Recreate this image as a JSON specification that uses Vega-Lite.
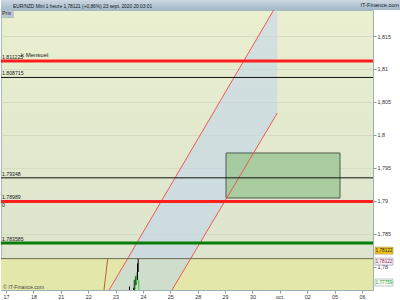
{
  "$schema": "https://vega.github.io/schema/vega-lite/v6.json",
  "padding": 0,
  "autosize": {"type": "pad"},
  "background": "#ffffff",
  "spacing": 0,
  "bounds": "flush",
  "title": {"text": "IT-Finance.com", "anchor": "end", "orient": "top", "frame": "bounds", "offset": -9, "dx": -2, "fontSize": 5.6, "fontWeight": "normal", "color": "#14202c", "font": "Liberation Sans"},
  "config": {
    "font": "Liberation Sans",
    "view": {"stroke": null},
    "axisX": {"tickCount": 14, "labelOverlap": false, "labelFlush": false},
    "axisY": {"tickCount": 10, "labelOverlap": false, "labelFlush": false}
  },
  "datasets": {
    "price": [{"value": 1.78122}],
    "levels": [
      {"label": "1.811225", "value": 1.811225, "kind": "red"},
      {"label": "1.808715", "value": 1.808715, "kind": "black"},
      {"label": "1.79348", "value": 1.79348, "kind": "black"},
      {"label": "1.78989", "value": 1.78989, "kind": "red"},
      {"label": "1.783585", "value": 1.783585, "kind": "green"}
    ],
    "channel": [
      {"p": 1.77646, "left": 3.766, "right": 6.063},
      {"p": 1.803316, "left": 7.568, "right": 9.909},
      {"p": 1.81895, "left": 9.777, "right": 9.909}
    ],
    "trend": [
      {"line": "bas", "i": 3.766, "p": 1.77646},
      {"line": "bas", "i": 9.777, "p": 1.81895},
      {"line": "haut", "i": 6.063, "p": 1.77646},
      {"line": "haut", "i": 9.909, "p": 1.803316}
    ],
    "brown": [{"i": 3.579, "p": 1.77646}, {"i": 3.715, "p": 1.78122}],
    "zone": [{"start": 8.035, "end": 12.199, "high": 1.79725, "low": 1.79042}],
    "candles": [
      {"i": 4.511, "low": 1.7764, "high": 1.777, "dir": "down"},
      {"i": 4.657, "low": 1.7764, "high": 1.7768, "dir": "down"},
      {"i": 4.686, "low": 1.7764, "high": 1.778, "dir": "down"},
      {"i": 4.719, "low": 1.7765, "high": 1.7784, "dir": "up"},
      {"i": 4.748, "low": 1.7772, "high": 1.7786, "dir": "down"},
      {"i": 4.777, "low": 1.7776, "high": 1.7792, "dir": "up"},
      {"i": 4.803, "low": 1.778, "high": 1.7805, "dir": "down"},
      {"i": 4.828, "low": 1.7792, "high": 1.7812, "dir": "down"},
      {"i": 4.85, "low": 1.7765, "high": 1.778, "dir": "up"}
    ],
    "tags": [
      {"kind": "last", "label": "1,78122", "value": 1.78122},
      {"kind": "close", "label": "1,78122", "value": 1.78122},
      {"kind": "low", "label": "1,77759", "value": 1.77759}
    ]
  },
  "vconcat": [
    {
      "width": 400,
      "height": 10,
      "view": {"fill": {"gradient": "linear", "x1": 0, "y1": 0, "x2": 0, "y2": 1, "stops": [{"offset": 0, "color": "#cdd9e3"}, {"offset": 1, "color": "#a3b8c8"}]}, "stroke": null},
      "title": {"text": "EUR/NZD Mini   1 heure   1,78121 (+0,86%)   23 sept. 2020 20:03:01", "anchor": "start", "frame": "group", "orient": "top", "offset": -9, "dx": 12, "fontSize": 4.8, "fontWeight": "normal", "color": "#101822", "font": "Liberation Sans"},
      "data": {"values": [{"h": 1}]},
      "mark": {"type": "rect", "opacity": 0},
      "encoding": {}
    },
    {
      "width": 372,
      "height": 280,
      "view": {"fill": {"gradient": "linear", "x1": 0, "y1": 0, "x2": 0, "y2": 1, "stops": [{"offset": 0, "color": "#eaefcf"}, {"offset": 1, "color": "#dbe3cd"}]}, "stroke": "#a9b8b8", "strokeWidth": 1},
      "layer": [
        {
          "data": {"name": "price"},
          "mark": {"type": "rect", "fill": "#e3e8aa", "clip": true},
          "encoding": {
            "y": {"field": "value", "type": "quantitative", "scale": {"domain": [1.77646, 1.81895], "nice": false, "zero": false},
              "axis": {"orient": "right", "values": [1.78, 1.785, 1.79, 1.795, 1.8, 1.805, 1.81, 1.815], "labelExpr": "replace(format(datum.value, '.3~f'), '.', ',')", "title": null, "grid": true, "gridColor": "#d6dcc4", "gridWidth": 1, "tickSize": 3, "tickColor": "#8c9a9a", "domainColor": "#9fb0b0", "labelFontSize": 5.4, "labelColor": "#333333", "labelPadding": 1, "labelOverlap": false, "labelFont": "Liberation Sans"}},
            "y2": {"datum": 1.7},
            "x": {"datum": -1, "type": "quantitative", "scale": {"domain": [-0.183, 13.404], "nice": false, "zero": false},
              "axis": {"orient": "bottom", "values": [0, 1, 2, 3, 4, 5, 6, 7, 8, 9, 10, 11, 12, 13], "labelExpr": "['17','18','21','22','23','24','25','28','29','30','oct.','02','05','06'][datum.value]", "title": null, "grid": false, "tickSize": 3, "tickColor": "#8c9a9a", "domainColor": "#9fb0b0", "labelFontSize": 5.4, "labelColor": "#333333", "labelPadding": 1, "labelFlush": false, "labelOverlap": false, "labelFont": "Liberation Sans"}},
            "x2": {"datum": 20}
          }
        },
        {
          "data": {"name": "channel"},
          "mark": {"type": "area", "orient": "horizontal", "fill": "#bcd2ef", "opacity": 0.5, "clip": true},
          "encoding": {
            "y": {"field": "p", "type": "quantitative"},
            "x": {"field": "left", "type": "quantitative"},
            "x2": {"field": "right"}
          }
        },
        {
          "data": {"name": "zone"},
          "mark": {"type": "rect", "fill": "#9fc896", "fillOpacity": 0.85, "stroke": "#4f5a4f", "strokeWidth": 1, "clip": true},
          "encoding": {
            "x": {"field": "start", "type": "quantitative"},
            "x2": {"field": "end"},
            "y": {"field": "high", "type": "quantitative"},
            "y2": {"field": "low"}
          }
        },
        {
          "data": {"name": "trend"},
          "mark": {"type": "line", "stroke": "#f25555", "strokeWidth": 1, "clip": true},
          "encoding": {
            "x": {"field": "i", "type": "quantitative"},
            "y": {"field": "p", "type": "quantitative"},
            "detail": {"field": "line"}
          }
        },
        {
          "data": {"name": "brown"},
          "mark": {"type": "line", "stroke": "#b4643c", "strokeWidth": 1, "clip": true},
          "encoding": {
            "x": {"field": "i", "type": "quantitative"},
            "y": {"field": "p", "type": "quantitative"}
          }
        },
        {
          "data": {"name": "price"},
          "mark": {"type": "rule", "stroke": "#6b6b55", "strokeWidth": 1, "clip": true},
          "encoding": {"y": {"field": "value", "type": "quantitative"}}
        },
        {
          "data": {"name": "levels"},
          "transform": [{"filter": "datum.kind == 'black'"}],
          "mark": {"type": "rule", "stroke": "#111111", "strokeWidth": 1, "clip": true},
          "encoding": {"y": {"field": "value", "type": "quantitative"}}
        },
        {
          "data": {"name": "levels"},
          "transform": [{"filter": "datum.kind == 'red'"}],
          "mark": {"type": "rule", "stroke": "#ff1e1e", "strokeWidth": 3, "clip": true},
          "encoding": {"y": {"field": "value", "type": "quantitative"}}
        },
        {
          "data": {"name": "levels"},
          "transform": [{"filter": "datum.kind == 'green'"}],
          "mark": {"type": "rule", "stroke": "#087d08", "strokeWidth": 3, "clip": true},
          "encoding": {"y": {"field": "value", "type": "quantitative"}}
        },
        {
          "data": {"name": "candles"},
          "mark": {"type": "rule", "strokeWidth": 1, "clip": true},
          "encoding": {
            "x": {"field": "i", "type": "quantitative"},
            "y": {"field": "low", "type": "quantitative"},
            "y2": {"field": "high"},
            "color": {"field": "dir", "type": "nominal", "scale": {"domain": ["down", "up"], "range": ["#000000", "#33c633"]}, "legend": null}
          }
        },
        {
          "data": {"name": "levels"},
          "mark": {"type": "text", "align": "left", "baseline": "bottom", "dx": 1, "dy": -1, "fontSize": 5.2, "color": "#222222", "clip": true},
          "encoding": {
            "x": {"datum": -0.183},
            "y": {"field": "value", "type": "quantitative"},
            "text": {"field": "label"}
          }
        },
        {
          "data": {"values": [{"text": "k Mensuel", "value": 1.811225}]},
          "mark": {"type": "text", "align": "left", "baseline": "bottom", "dx": 20, "dy": -3, "fontSize": 6, "color": "#222222", "clip": true},
          "encoding": {
            "x": {"datum": -0.183},
            "y": {"field": "value", "type": "quantitative"},
            "text": {"field": "text"}
          }
        },
        {
          "data": {"values": [{"text": "0", "value": 1.78989}]},
          "mark": {"type": "text", "align": "left", "baseline": "top", "dx": 1, "dy": 2, "fontSize": 5.2, "color": "#222222", "clip": true},
          "encoding": {
            "x": {"datum": -0.183},
            "y": {"field": "value", "type": "quantitative"},
            "text": {"field": "text"}
          }
        },
        {
          "data": {"values": [{"text": "Prix"}]},
          "mark": {"type": "rect", "fill": "#b8c7d1", "stroke": "#9aabb8", "strokeWidth": 0.5, "clip": true},
          "encoding": {
            "x": {"datum": -0.183},
            "x2": {"datum": 0.27},
            "y": {"datum": 1.81895},
            "y2": {"datum": 1.8178}
          }
        },
        {
          "data": {"values": [{"text": "Prix"}]},
          "mark": {"type": "text", "align": "left", "baseline": "top", "dx": 1, "dy": 1, "fontSize": 5.4, "color": "#1c2630", "clip": true},
          "encoding": {
            "x": {"datum": -0.183},
            "y": {"datum": 1.81895},
            "text": {"field": "text"}
          }
        },
        {
          "data": {"values": [{"text": "© IT-Finance.com"}]},
          "mark": {"type": "text", "align": "left", "baseline": "bottom", "dx": 2, "dy": -0.5, "fontSize": 5.2, "color": "#444444", "clip": true},
          "encoding": {
            "x": {"datum": -0.183},
            "y": {"datum": 1.77646},
            "text": {"field": "text"}
          }
        },
        {
          "data": {"name": "tags"},
          "transform": [{"filter": "datum.kind == 'last'"}],
          "mark": {"type": "rect", "width": 18, "height": 7, "yOffset": -8, "fill": "#eec41a", "stroke": "#a89860", "strokeWidth": 0.6, "clip": false},
          "encoding": {"x": {"datum": 13.806}, "y": {"field": "value", "type": "quantitative"}}
        },
        {
          "data": {"name": "tags"},
          "transform": [{"filter": "datum.kind == 'last'"}],
          "mark": {"type": "text", "align": "center", "baseline": "middle", "dy": -8, "fontSize": 4.7, "color": "#2a2a2a", "clip": false},
          "encoding": {"x": {"datum": 13.806}, "y": {"field": "value", "type": "quantitative"}, "text": {"field": "label"}}
        },
        {
          "data": {"name": "tags"},
          "transform": [{"filter": "datum.kind == 'close'"}],
          "mark": {"type": "rect", "width": 18, "height": 7, "yOffset": 3, "fill": "#f0ecf4", "stroke": "#9aa0b4", "strokeWidth": 0.6, "clip": false},
          "encoding": {"x": {"datum": 13.806}, "y": {"field": "value", "type": "quantitative"}}
        },
        {
          "data": {"name": "tags"},
          "transform": [{"filter": "datum.kind == 'close'"}],
          "mark": {"type": "text", "align": "center", "baseline": "middle", "dy": 3, "fontSize": 4.7, "color": "#a03050", "clip": false},
          "encoding": {"x": {"datum": 13.806}, "y": {"field": "value", "type": "quantitative"}, "text": {"field": "label"}}
        },
        {
          "data": {"name": "tags"},
          "transform": [{"filter": "datum.kind == 'low'"}],
          "mark": {"type": "rect", "width": 18, "height": 7, "fill": "#f6f9f6", "stroke": "#9aa8b4", "strokeWidth": 0.6, "clip": false},
          "encoding": {"x": {"datum": 13.806}, "y": {"field": "value", "type": "quantitative"}}
        },
        {
          "data": {"name": "tags"},
          "transform": [{"filter": "datum.kind == 'low'"}],
          "mark": {"type": "text", "align": "center", "baseline": "middle", "fontSize": 4.7, "color": "#22a822", "clip": false},
          "encoding": {"x": {"datum": 13.806}, "y": {"field": "value", "type": "quantitative"}, "text": {"field": "label"}}
        }
      ]
    }
  ]
}
